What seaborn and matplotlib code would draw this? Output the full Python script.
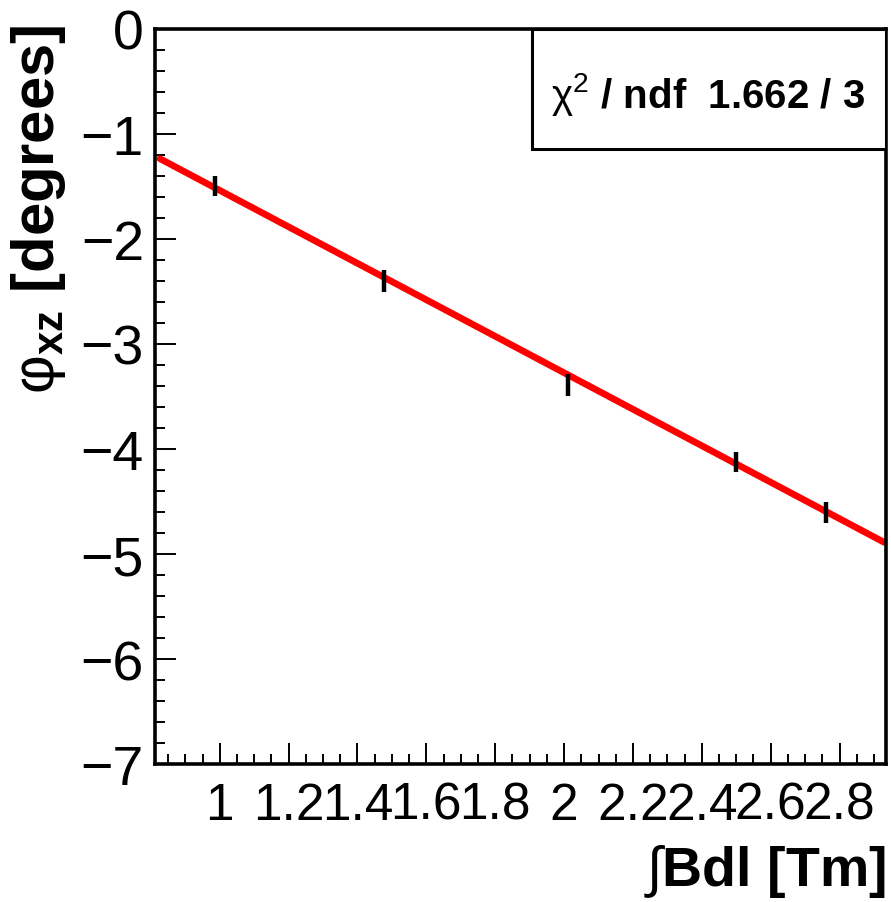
import numpy as np
import pandas as pd
import matplotlib
matplotlib.use("Agg")
import matplotlib.pyplot as plt
from matplotlib import font_manager
from matplotlib.ticker import MultipleLocator
from matplotlib.patches import Rectangle
import seaborn as sns

# ---- data ----
bdl = [0.985, 1.478, 2.010, 2.500, 2.760]          # integral B dl [Tm]
phi = [-1.495, -2.397, -3.390, -4.124, -4.600]     # phi_xz [degrees]
phi_err = [0.095, 0.105, 0.103, 0.095, 0.100]
fit_p0 = 0.200      # fitted intercept
fit_p1 = -1.737     # fitted slope
fit_range = [0.826, 2.930]
chi2_text = "1.662 / 3"
x_ticks = [1.0, 1.2, 1.4, 1.6, 1.8, 2.0, 2.2, 2.4, 2.6, 2.8]
x_tick_labels = ["1", "1.2", "1.4", "1.6", "1.8", "2", "2.2", "2.4", "2.6", "2.8"]
y_ticks = [0, -1, -2, -3, -4, -5, -6, -7]

sns.set_theme(style="ticks")

names = {f.name for f in font_manager.fontManager.ttflist}
narrow = "Liberation Sans Narrow" if "Liberation Sans Narrow" in names else None
base = "Liberation Sans"
hfont = narrow if narrow else base
xtick_size = 45 if narrow else 37
ytick_size = 45 if narrow else 40
plt.rcParams["font.family"] = [hfont, "DejaVu Sans"]
plt.rcParams["mathtext.fontset"] = "custom"
plt.rcParams["mathtext.rm"] = hfont
plt.rcParams["mathtext.bf"] = hfont + ":bold"
plt.rcParams["mathtext.it"] = hfont + ":italic"
plt.rcParams["axes.unicode_minus"] = True

fig = plt.figure(figsize=(8.91, 9.03), dpi=100)
ax = fig.add_axes([0.174, 0.1528, 0.8204, 0.814])
ax.set_facecolor("white")

# fit line
fx = np.linspace(fit_range[0], fit_range[1], 200)
fit_df = pd.DataFrame({"x": fx, "y": fit_p0 + fit_p1 * fx})
sns.lineplot(data=fit_df, x="x", y="y", ax=ax, color="#ff0000", lw=4.8, zorder=2)

# data points with error bars
ax.errorbar(bdl, phi, yerr=phi_err, fmt="none", ecolor="black",
            elinewidth=3.2, capsize=0, zorder=3)

ax.set_xlim(0.812, 2.935)
ax.set_ylim(-7, 0)

ax.set_xticks(x_ticks)
ax.set_xticklabels(x_tick_labels)
ax.xaxis.set_minor_locator(MultipleLocator(0.05))
ax.set_yticks(y_ticks)
ax.yaxis.set_minor_locator(MultipleLocator(0.2))

ax.tick_params(axis="both", which="major", direction="in", length=15, width=1.4,
               color="black", labelcolor="black")
ax.tick_params(axis="x", which="major", labelsize=xtick_size, pad=12)
ax.tick_params(axis="y", which="major", labelsize=ytick_size, pad=8)
ax.tick_params(axis="both", which="minor", direction="in", length=7.5, width=1.4,
               color="black")
ax.tick_params(top=False, right=False, which="both")

for s in ax.spines.values():
    s.set_visible(True)
    s.set_linewidth(2.6)
    s.set_color("black")

ax.set_xlabel("")
ax.set_ylabel("")

# axis titles
fig.text(0.994, 0.003, r"$\int$" + r"$\mathbf{Bdl\ [Tm]}$", ha="right", va="bottom",
         fontsize=40, color="black")
fig.text(0.043, 0.973, r"$\mathrm{φ}_{\mathbf{xz}}$ [degrees]", rotation=90, ha="center", va="top",
         fontsize=43, fontweight="bold", family=[base, "DejaVu Sans"], color="black")

# chi2 box
box = Rectangle((0.516, 0.837), 0.484, 0.163, transform=ax.transAxes,
                facecolor="white", edgecolor="black", lw=2.2, zorder=5)
ax.add_patch(box)
ax.text(0.757, 0.912, r"$\mathrm{χ}^{2}$ / ndf  " + chi2_text, transform=ax.transAxes,
        ha="center", va="center", fontsize=32 if narrow else 29, fontweight="bold",
        color="black", zorder=6)

fig.savefig("out.png", dpi=100, facecolor="white")
